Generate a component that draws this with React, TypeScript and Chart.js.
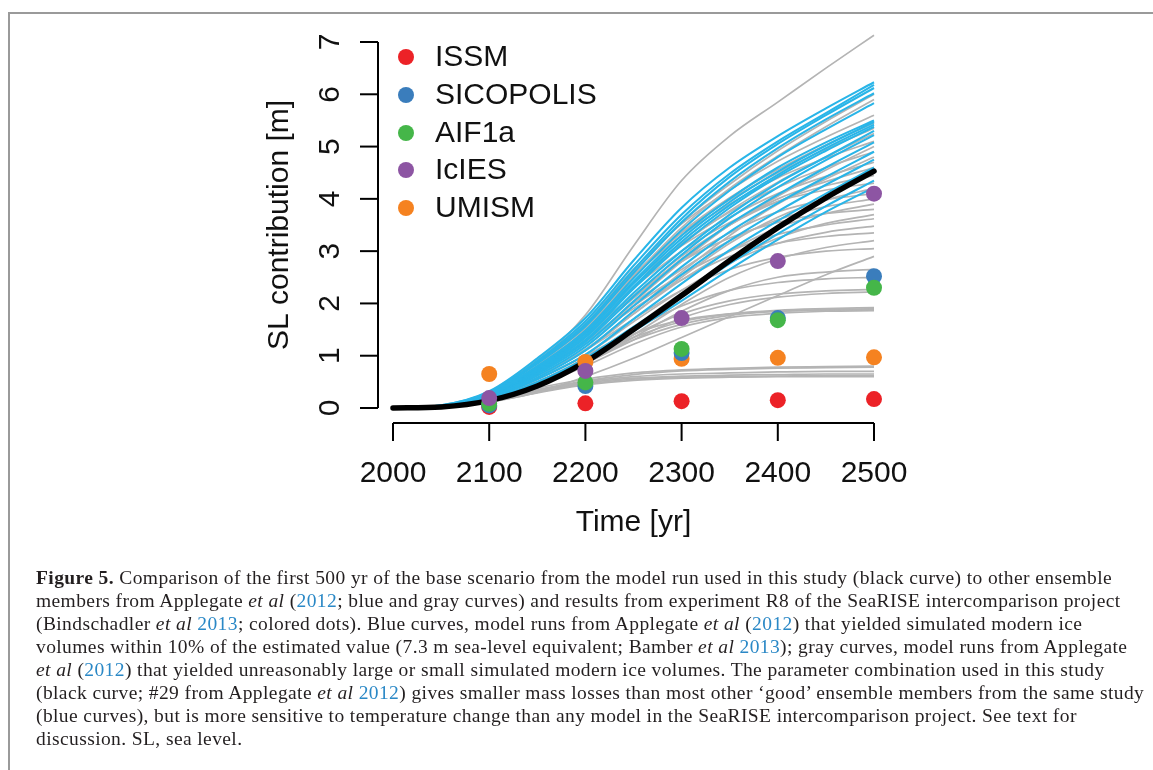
import React, { useEffect, useRef } from "react";
import { Chart, registerables } from "chart.js";

Chart.register(...registerables);

// ---------- data ----------
const years = [2000, 2050, 2100, 2150, 2200, 2250, 2300, 2350, 2400, 2450, 2500];
const xTicks = [2000, 2100, 2200, 2300, 2400, 2500];
const yTicks = [0, 1, 2, 3, 4, 5, 6, 7];

// run #29 (this study)
const blackRun = [0, 0.02, 0.14, 0.42, 0.88, 1.5, 2.15, 2.82, 3.45, 4.02, 4.53];

// "good" ensemble members (blue)
const blueRuns = [
  [0, 0.05, 0.32, 0.95, 1.72, 2.82, 3.83, 4.6, 5.2, 5.73, 6.23],
  [0, 0.05, 0.3, 0.9, 1.66, 2.72, 3.7, 4.48, 5.1, 5.64, 6.18],
  [0, 0.04, 0.29, 0.88, 1.6, 2.64, 3.62, 4.42, 5.05, 5.6, 6.12],
  [0, 0.04, 0.28, 0.85, 1.56, 2.58, 3.55, 4.33, 4.97, 5.52, 6.02],
  [0, 0.04, 0.27, 0.8, 1.48, 2.48, 3.4, 4.16, 4.8, 5.33, 5.83],
  [0, 0.04, 0.27, 0.78, 1.45, 2.42, 3.3, 4.0, 4.6, 5.08, 5.5],
  [0, 0.04, 0.26, 0.76, 1.42, 2.38, 3.24, 3.94, 4.52, 5.02, 5.47],
  [0, 0.03, 0.25, 0.74, 1.38, 2.32, 3.18, 3.88, 4.46, 4.97, 5.42],
  [0, 0.03, 0.25, 0.72, 1.35, 2.28, 3.12, 3.83, 4.42, 4.92, 5.38],
  [0, 0.03, 0.24, 0.7, 1.3, 2.2, 3.0, 3.7, 4.3, 4.8, 5.3],
  [0, 0.03, 0.23, 0.68, 1.27, 2.13, 2.93, 3.63, 4.22, 4.74, 5.22],
  [0, 0.03, 0.22, 0.65, 1.22, 2.04, 2.84, 3.52, 4.08, 4.6, 5.08],
  [0, 0.03, 0.21, 0.62, 1.17, 1.95, 2.7, 3.37, 3.92, 4.42, 4.9],
  [0, 0.03, 0.2, 0.58, 1.1, 1.85, 2.55, 3.2, 3.76, 4.27, 4.75],
  [0, 0.03, 0.19, 0.55, 1.02, 1.7, 2.38, 3.02, 3.58, 4.1, 4.6],
  [0, 0.02, 0.17, 0.5, 0.95, 1.55, 2.15, 2.76, 3.33, 3.86, 4.35],
  [0, 0.02, 0.16, 0.47, 0.92, 1.47, 2.05, 2.65, 3.22, 3.75, 4.22],
];

// other ensemble members (gray)
const grayRuns = [
  [0, 0.04, 0.28, 0.88, 1.78, 3.1, 4.35, 5.2, 5.85, 6.5, 7.13],
  [0, 0.04, 0.28, 0.82, 1.55, 2.6, 3.55, 4.28, 4.92, 5.48, 6.0],
  [0, 0.04, 0.27, 0.8, 1.5, 2.52, 3.45, 4.2, 4.82, 5.38, 5.9],
  [0, 0.04, 0.3, 0.92, 1.65, 2.65, 3.52, 4.17, 4.72, 5.18, 5.6],
  [0, 0.04, 0.29, 0.87, 1.58, 2.52, 3.36, 4.02, 4.56, 5.03, 5.45],
  [0, 0.04, 0.3, 0.9, 1.6, 2.55, 3.35, 3.98, 4.5, 4.95, 5.35],
  [0, 0.03, 0.25, 0.76, 1.42, 2.32, 3.12, 3.77, 4.32, 4.8, 5.25],
  [0, 0.04, 0.3, 0.92, 1.63, 2.52, 3.3, 3.9, 4.4, 4.78, 5.1],
  [0, 0.03, 0.22, 0.66, 1.22, 2.02, 2.8, 3.5, 4.05, 4.55, 5.0],
  [0, 0.04, 0.29, 0.87, 1.52, 2.4, 3.15, 3.75, 4.22, 4.6, 4.9],
  [0, 0.03, 0.2, 0.6, 1.12, 1.85, 2.6, 3.3, 3.9, 4.38, 4.8],
  [0, 0.04, 0.31, 0.92, 1.57, 2.4, 3.1, 3.65, 4.1, 4.43, 4.7],
  [0, 0.03, 0.23, 0.71, 1.31, 2.1, 2.85, 3.5, 4.0, 4.33, 4.6],
  [0, 0.03, 0.26, 0.77, 1.37, 2.15, 2.9, 3.5, 3.95, 4.25, 4.45],
  [0, 0.04, 0.29, 0.87, 1.52, 2.3, 3.0, 3.55, 3.95, 4.17, 4.3],
  [0, 0.03, 0.2, 0.6, 1.1, 1.8, 2.5, 3.15, 3.65, 3.98, 4.2],
  [0, 0.03, 0.25, 0.76, 1.36, 2.1, 2.8, 3.35, 3.75, 3.98, 4.1],
  [0, 0.03, 0.23, 0.69, 1.26, 2.0, 2.65, 3.2, 3.6, 3.85, 4.0],
  [0, 0.03, 0.2, 0.6, 1.12, 1.8, 2.45, 3.0, 3.45, 3.72, 3.9],
  [0, 0.03, 0.26, 0.8, 1.42, 2.15, 2.8, 3.25, 3.55, 3.72, 3.8],
  [0, 0.02, 0.17, 0.5, 0.95, 1.55, 2.2, 2.8, 3.25, 3.53, 3.7],
  [0, 0.03, 0.23, 0.69, 1.26, 1.95, 2.55, 3.0, 3.32, 3.5, 3.62],
  [0, 0.02, 0.18, 0.55, 1.02, 1.65, 2.25, 2.78, 3.15, 3.36, 3.48],
  [0, 0.03, 0.24, 0.71, 1.26, 1.9, 2.45, 2.9, 3.15, 3.28, 3.35],
  [0, 0.02, 0.15, 0.45, 0.85, 1.4, 1.98, 2.5, 2.85, 3.07, 3.2],
  [0, 0.02, 0.2, 0.6, 1.1, 1.7, 2.25, 2.65, 2.88, 3.0, 3.05],
  [0, 0.02, 0.12, 0.3, 0.6, 0.95, 1.35, 1.75, 2.15, 2.55, 2.9],
  [0, 0.02, 0.15, 0.45, 0.85, 1.35, 1.85, 2.25, 2.5, 2.6, 2.65],
  [0, 0.02, 0.18, 0.55, 1.0, 1.5, 1.95, 2.25, 2.4, 2.47, 2.5],
  [0, 0.02, 0.17, 0.5, 0.95, 1.4, 1.8, 2.05, 2.18, 2.24, 2.27],
  [0, 0.02, 0.15, 0.45, 0.85, 1.3, 1.72, 1.98, 2.12, 2.19, 2.22],
  [0, 0.02, 0.16, 0.5, 0.92, 1.35, 1.65, 1.8, 1.87, 1.9, 1.92],
  [0, 0.02, 0.15, 0.47, 0.88, 1.3, 1.6, 1.77, 1.85, 1.88, 1.9],
  [0, 0.02, 0.17, 0.55, 1.0, 1.42, 1.68, 1.8, 1.85, 1.87, 1.88],
  [0, 0.02, 0.13, 0.42, 0.8, 1.22, 1.55, 1.73, 1.81, 1.85, 1.86],
  [0, 0.02, 0.15, 0.38, 0.55, 0.67, 0.73, 0.76, 0.78, 0.79, 0.8],
  [0, 0.02, 0.13, 0.35, 0.52, 0.64, 0.71, 0.74, 0.76, 0.77, 0.78],
  [0, 0.02, 0.13, 0.33, 0.5, 0.6, 0.65, 0.67, 0.69, 0.7, 0.7],
  [0, 0.02, 0.12, 0.32, 0.48, 0.57, 0.61, 0.63, 0.64, 0.65, 0.65],
  [0, 0.02, 0.12, 0.3, 0.46, 0.55, 0.59, 0.6, 0.61, 0.62, 0.62],
  [0, 0.02, 0.11, 0.29, 0.44, 0.53, 0.57, 0.59, 0.6, 0.6, 0.6],
];

// SeaRISE R8 results
const dotYears = [2100, 2200, 2300, 2400, 2500];
const issm = [0.02, 0.09, 0.13, 0.15, 0.17];
const sicopolis = [0.05, 0.42, 1.05, 1.72, 2.52];
const aif1a = [0.08, 0.49, 1.13, 1.68, 2.3];
const icies = [0.19, 0.71, 1.72, 2.81, 4.1];
const umism = [0.65, 0.88, 0.94, 0.96, 0.97];

const modelNames = ["ISSM", "SICOPOLIS", "AIF1a", "IcIES", "UMISM"];
const modelValues = [issm, sicopolis, aif1a, icies, umism];
const modelColors = ["#ec2227", "#3a7dbc", "#45b649", "#8d55a3", "#f58220"];
// drawing order (first = on top in Chart.js)
const dotDrawOrder = [3, 2, 1, 4, 0];

const FONT = "'Liberation Sans', Arial, Helvetica, sans-serif";
const GRAY = "#b4b4b4";
const BLUE = "#29b5e8";

const rAxesPlugin = {
  id: "rAxes",
  afterDraw(chart: any) {
    const { ctx } = chart;
    const xs = chart.scales.x;
    const ys = chart.scales.y;
    ctx.save();
    ctx.strokeStyle = "#000";
    ctx.fillStyle = "#111";
    ctx.lineWidth = 2;
    ctx.lineCap = "butt";
    // y axis
    const ax = 370;
    const y0 = ys.getPixelForValue(yTicks[0]);
    const y1 = ys.getPixelForValue(yTicks[yTicks.length - 1]);
    ctx.beginPath();
    ctx.moveTo(ax, y0);
    ctx.lineTo(ax, y1);
    ctx.stroke();
    ctx.font = `30px ${FONT}`;
    ctx.textAlign = "center";
    ctx.textBaseline = "middle";
    yTicks.forEach((t) => {
      const py = ys.getPixelForValue(t);
      ctx.beginPath();
      ctx.moveTo(ax, py);
      ctx.lineTo(ax - 18, py);
      ctx.stroke();
      ctx.save();
      ctx.translate(322, py);
      ctx.rotate(-Math.PI / 2);
      ctx.fillText(String(t), 0, 1);
      ctx.restore();
    });
    ctx.save();
    ctx.translate(272, (y0 + y1) / 2);
    ctx.rotate(-Math.PI / 2);
    ctx.fillText("SL contribution [m]", 0, 0);
    ctx.restore();
    // x axis
    const ay = 415;
    const x0 = xs.getPixelForValue(xTicks[0]);
    const x1 = xs.getPixelForValue(xTicks[xTicks.length - 1]);
    ctx.beginPath();
    ctx.moveTo(x0, ay);
    ctx.lineTo(x1, ay);
    ctx.stroke();
    xTicks.forEach((t) => {
      const px = xs.getPixelForValue(t);
      ctx.beginPath();
      ctx.moveTo(px, ay);
      ctx.lineTo(px, ay + 18);
      ctx.stroke();
      ctx.fillText(String(t), px, 466);
    });
    ctx.fillText("Time [yr]", (x0 + x1) / 2, 515);
    // legend
    const legendRows = [49, 87, 125, 162, 200];
    ctx.textAlign = "left";
    modelNames.forEach((name, i) => {
      ctx.fillStyle = modelColors[i];
      ctx.beginPath();
      ctx.arc(398, legendRows[i], 8, 0, Math.PI * 2);
      ctx.fill();
      ctx.fillStyle = "#111";
      ctx.fillText(name, 427, legendRows[i] + 1);
    });
    ctx.restore();
  },
};

function App() {
  const ref = useRef<HTMLCanvasElement | null>(null);
  useEffect(() => {
    if (!ref.current) return;
    const toXY = (vals: number[], xsArr: number[]) => vals.map((v, i) => ({ x: xsArr[i], y: v }));
    const datasets: any[] = [];
    dotDrawOrder.forEach((i) => {
      datasets.push({
        label: modelNames[i],
        data: toXY(modelValues[i], dotYears),
        showLine: false,
        pointRadius: 8,
        pointBackgroundColor: modelColors[i],
        pointBorderWidth: 0,
        borderColor: modelColors[i],
        clip: false,
      });
    });
    datasets.push({
      label: "Run 29",
      data: toXY(blackRun, years),
      borderColor: "#000",
      borderWidth: 5.5,
      pointRadius: 0,
      cubicInterpolationMode: "monotone",
      borderCapStyle: "round",
      clip: false,
    });
    blueRuns.forEach((r, k) => {
      datasets.push({
        label: "good " + k,
        data: toXY(r, years),
        borderColor: BLUE,
        borderWidth: 2.1,
        pointRadius: 0,
        cubicInterpolationMode: "monotone",
        clip: false,
      });
    });
    grayRuns.forEach((r, k) => {
      datasets.push({
        label: "other " + k,
        data: toXY(r, years),
        borderColor: GRAY,
        borderWidth: 1.7,
        pointRadius: 0,
        cubicInterpolationMode: "monotone",
        clip: false,
      });
    });
    const chart = new Chart(ref.current, {
      type: "line",
      data: { datasets },
      options: {
        animation: false,
        responsive: false,
        maintainAspectRatio: false,
        layout: { padding: { left: 385, right: 271, top: 34, bottom: 140 } },
        scales: {
          x: { type: "linear", min: 2000, max: 2500, display: false },
          y: { type: "linear", min: 0, max: 7, display: false },
        },
        plugins: { legend: { display: false }, tooltip: { enabled: false } },
      },
      plugins: [rAxesPlugin],
    });
    return () => chart.destroy();
  }, []);

  const link = { color: "#2a88c6" };
  const capLines: React.ReactNode[] = [
    <><b>Figure 5.</b> Comparison of the first 500 yr of the base scenario from the model run used in this study (black curve) to other ensemble</>,
    <>members from Applegate <i>et al</i> (<span style={link}>2012</span>; blue and gray curves) and results from experiment R8 of the SeaRISE intercomparison project</>,
    <>(Bindschadler <i>et al</i> <span style={link}>2013</span>; colored dots). Blue curves, model runs from Applegate <i>et al</i> (<span style={link}>2012</span>) that yielded simulated modern ice</>,
    <>volumes within 10% of the estimated value (7.3 m sea-level equivalent; Bamber <i>et al</i> <span style={link}>2013</span>); gray curves, model runs from Applegate</>,
    <><i>et al</i> (<span style={link}>2012</span>) that yielded unreasonably large or small simulated modern ice volumes. The parameter combination used in this study</>,
    <>(black curve; #29 from Applegate <i>et al</i> <span style={link}>2012</span>) gives smaller mass losses than most other ‘good’ ensemble members from the same study</>,
    <>(blue curves), but is more sensitive to temperature change than any model in the SeaRISE intercomparison project. See text for</>,
    <>discussion. SL, sea level.</>,
  ];

  return (
    <div style={{ position: "relative", width: 1137, height: 750 }}>
      <div
        style={{
          position: "fixed",
          left: 8,
          top: 12,
          right: 0,
          bottom: 0,
          borderTop: "2px solid #9a9a9a",
          borderLeft: "2px solid #9a9a9a",
          pointerEvents: "none",
        }}
      />
      <canvas ref={ref} width={1137} height={540} style={{ position: "absolute", left: 0, top: 0, width: 1137, height: 540 }} />
      <div
        style={{
          position: "absolute",
          left: 28,
          top: 558,
          fontFamily: "'Liberation Serif', 'Times New Roman', serif",
          fontSize: 19.5,
          letterSpacing: "0.4px",
          lineHeight: "23px",
          color: "#231f20",
          whiteSpace: "nowrap",
        }}
      >
        {capLines.map((l, i) => (
          <div key={i}>{l}</div>
        ))}
      </div>
    </div>
  );
}

export default App;
